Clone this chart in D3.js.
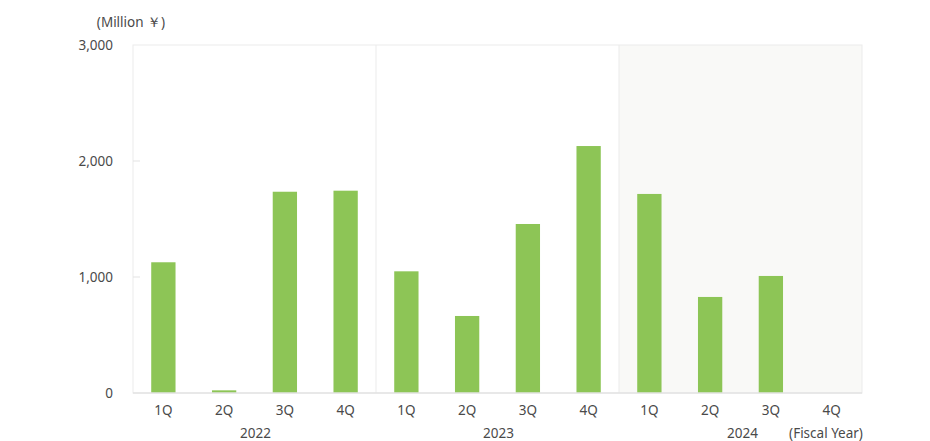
<!DOCTYPE html>
<html><head><meta charset="utf-8">
<script src="https://cdn.jsdelivr.net/npm/d3@7"></script>
<style>body{margin:0;background:#fff}svg text{font-family:"Noto Sans",sans-serif;fill:#4a4a4a;font-size:13.5px}</style>
</head><body><svg id="c" width="930" height="441"></svg>
<script>
const years = ["2022","2023","2024"];
const quarters = ["1Q","2Q","3Q","4Q"];
const values = [1127, 23, 1735, 1744, 1049, 664, 1457, 2129, 1716, 828, 1009, null];
const yTicks = [0, 1000, 2000, 3000];
const unitLabel = "(Million \uFFE5)";
const fyLabel = "(Fiscal Year)";

const svg = d3.select("#c");
const L = 133, R = 862, T = 45, B = 393;
const keys = [];
years.forEach(y => quarters.forEach(q => keys.push(y + "-" + q)));
const x = d3.scaleBand().domain(keys).range([L, R]).paddingInner(0.6).paddingOuter(0.3);
const y = d3.scaleLinear().domain([0, 3000]).range([B, T]);
const yearW = (R - L) / years.length;

svg.append("rect").attr("x", L + 2 * yearW).attr("y", T).attr("width", yearW).attr("height", B - T).attr("fill", "#f9f9f7");

svg.append("rect").attr("x", L).attr("y", T).attr("width", R - L).attr("height", B - T)
  .attr("fill", "none").attr("stroke", "#ebebeb").attr("stroke-width", 1);
[1, 2].forEach(i => svg.append("line").attr("x1", L + i * yearW).attr("x2", L + i * yearW).attr("y1", T).attr("y2", B)
  .attr("stroke", "#ebebeb"));

svg.append("g").selectAll("rect").data(values.map((v, i) => ({k: keys[i], v})).filter(d => d.v != null))
  .join("rect").attr("x", d => x(d.k)).attr("width", x.bandwidth())
  .attr("y", d => y(d.v)).attr("height", d => B - y(d.v)).attr("fill", "#8dc556");

const ya = svg.append("g").attr("transform", `translate(${L},0)`)
  .call(d3.axisLeft(y).tickValues(yTicks).tickFormat(d3.format(",")).tickSize(0).tickPadding(20));
ya.select(".domain").remove();
ya.selectAll("text").attr("font-size", 13.5).attr("fill", "#4a4a4a").attr("dy", "0.35em");
svg.append("g").selectAll("line").data(yTicks.filter(d => d > 0 && d < 3000)).join("line")
  .attr("x1", L).attr("x2", L + 7).attr("y1", d => y(d)).attr("y2", d => y(d)).attr("stroke", "#e3e3e3");

svg.append("line").attr("x1", L).attr("x2", R).attr("y1", B).attr("y2", B).attr("stroke", "#e3e3e3").attr("stroke-width", 1.5);

const xa = svg.append("g").attr("transform", `translate(0,${B})`)
  .call(d3.axisBottom(x).tickFormat(k => k.split("-")[1]).tickSize(0).tickPadding(12));
xa.select(".domain").remove();
xa.selectAll("text").attr("font-size", 13.5).attr("fill", "#4a4a4a");

years.forEach((yr, i) => svg.append("text").attr("x", L + (i + 0.5) * yearW + (i == 2 ? 2 : 1)).attr("y", 441)
  .attr("dy", "-0.25em").attr("text-anchor", "middle").text(yr));
svg.append("text").attr("x", 826).attr("y", 441).attr("dy", "-0.25em").attr("text-anchor", "middle").text(fyLabel);
svg.append("text").attr("x", 131).attr("y", 27).attr("text-anchor", "middle").text(unitLabel);
</script></body></html>
